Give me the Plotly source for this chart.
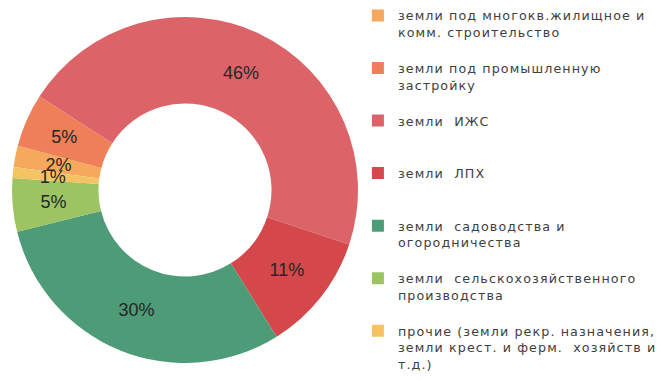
import plotly.graph_objects as go

raw_labels = [
    "земли под многокв.жилищное и<br>комм. строительство<br>\u00a0",
    "земли под промышленную<br>застройку<br>\u00a0",
    "земли  ИЖС<br>\u00a0<br>\u00a0",
    "земли  ЛПХ<br>\u00a0<br>\u00a0",
    "земли  садоводства и<br>огородничества<br>\u00a0",
    "земли  сельскохозяйственного<br>производства<br>\u00a0",
    "прочие (земли рекр. назначения,<br>земли крест. и ферм.  хозяйств и<br>т.д.)",
]
values = [2, 5, 46, 11, 30, 5, 1]
colors = ["#F6A85C", "#EF7F58", "#DC6468", "#D4474A", "#4E9B78", "#9DC462", "#F5C361"]


def spaced(txt):
    # widen the lettering like the reference legend
    parts = txt.replace("  ", "\u00a0 ").split("<br>")
    return "<br>".join(f"<span style='letter-spacing:1.1px'>{p}</span>" for p in parts)


labels = [spaced(t) for t in raw_labels]

W, H = 672, 388
CX, CY, R = 185, 190, 173          # donut centre / outer radius in pixels
ROT = 277.6
PCT = "%{percent:.0%}"
label_font = dict(family="Liberation Sans, Arial", size=18, color="#262626")


def dom(r):
    return dict(x=[(CX - r) / W, (CX + r) / W],
                y=[(H - CY - r) / H, (H - CY + r) / H])


def tmpl(idx):
    return [PCT if i in idx else "" for i in range(len(values))]


common = dict(values=values, sort=False, direction="clockwise", rotation=ROT,
              textposition="inside", insidetextorientation="horizontal",
              textfont=label_font)

fig = go.Figure()
# visible donut with labels of the large slices
fig.add_trace(go.Pie(labels=labels, marker=dict(colors=colors, line=dict(width=0)),
                     hole=0.5, domain=dom(R), texttemplate=tmpl({2, 3, 4}), **common))
# transparent helper rings that only place the labels of the small slices
fig.add_trace(go.Pie(labels=labels, marker=dict(colors=["rgba(0,0,0,0)"] * 7, line=dict(width=0)),
                     hole=0.5, domain=dom(152.6), texttemplate=tmpl({1, 5}),
                     showlegend=False, hoverinfo="skip", **common))
fig.add_trace(go.Pie(labels=labels, marker=dict(colors=["rgba(0,0,0,0)"] * 7, line=dict(width=0)),
                     hole=0.5, domain=dom(137), texttemplate=tmpl({0, 6}),
                     showlegend=False, hoverinfo="skip", **common))

fig.update_layout(
    width=W, height=H,
    margin=dict(l=0, r=0, t=0, b=0),
    paper_bgcolor="white",
    uniformtext=dict(minsize=18, mode="show"),
    showlegend=True,
    legend=dict(
        x=0.5326, y=0.998, xanchor="left", yanchor="top",
        font=dict(family="DejaVu Sans", size=12.7, color="#404040"),
        valign="top",
        itemwidth=30,
        traceorder="normal",
    ),
)
fig.write_html("out.html")
